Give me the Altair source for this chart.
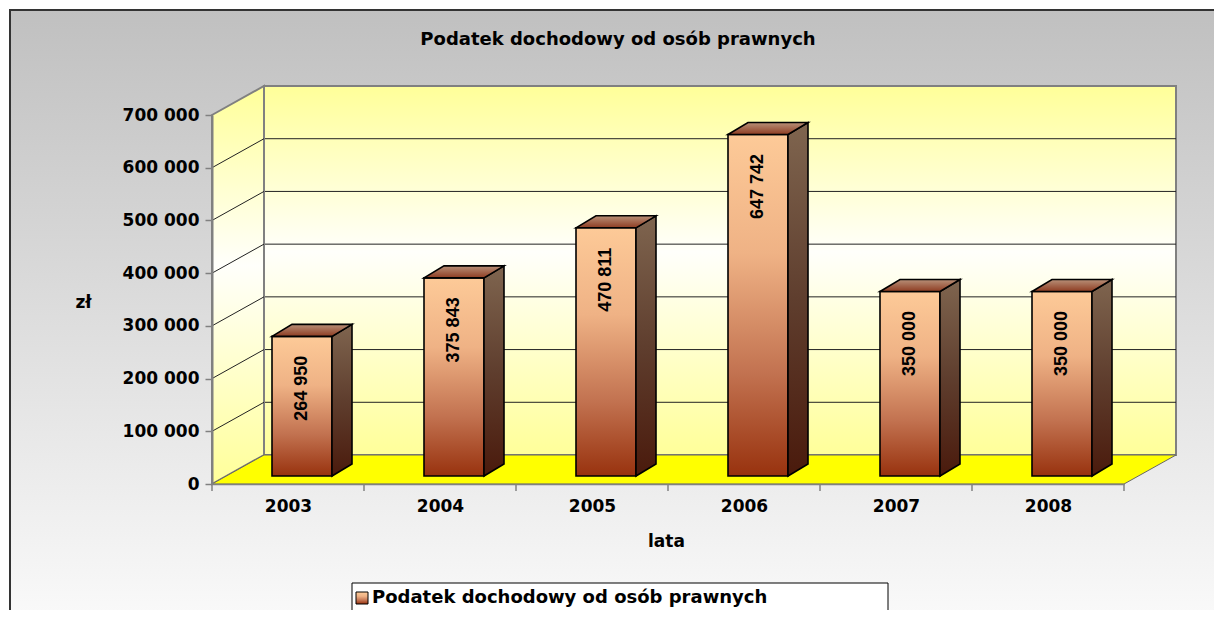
import json
import pandas as pd
import altair as alt

# ---------------- data ----------------
YEARS = ["2003", "2004", "2005", "2006", "2007", "2008"]
VALUES = [264950, 375843, 470811, 647742, 350000, 350000]
Y_TICKS = [0, 100000, 200000, 300000, 400000, 500000, 600000, 700000]
SERIES = "Podatek dochodowy od osób prawnych"
TITLE = "Podatek dochodowy od osób prawnych"
Y_TITLE = "zł"
X_TITLE = "lata"

# ---------------- geometry (pixel styles) ----------------
W, H = 912, 369
XMAX = len(YEARS)
YMAX = Y_TICKS[-1]
UX = W / XMAX
UY = H / YMAX


def dx(px):
    return px / UX


def dy(px):
    return px / UY


WALL_DX, WALL_DY = dx(52), dy(29)
BAR_W = dx(60)
BAR_SHIFT_X, BAR_SHIFT_Y = dx(14), dy(8)
BAR_DX, BAR_DY = dx(20), dy(12)

FONT_SP = "DejaVu Sans"
FONT_LB = "Liberation Sans"

# ---------------- derived tables ----------------
bar_rows = []
for i, (yr, v) in enumerate(zip(YEARS, VALUES)):
    xc = i + 0.5 + BAR_SHIFT_X
    bar_rows.append(dict(year=yr, value=v, label=f"{v:,}".replace(",", " "),
                         xl=xc - BAR_W / 2, xr=xc + BAR_W / 2, xc=xc,
                         y0=BAR_SHIFT_Y, y1=v + BAR_SHIFT_Y))
bars = pd.DataFrame(bar_rows)

side_rows, top_rows = [], []
for r in bar_rows:
    side_rows.append(dict(year=r["year"], x=r["xr"], y=r["y1"], y2=r["y0"]))
    side_rows.append(dict(year=r["year"], x=r["xr"] + BAR_DX, y=r["y1"] + BAR_DY, y2=r["y0"] + BAR_DY))
    t = r["y1"]
    top_rows += [
        dict(year=r["year"], x=r["xl"], y=t, y2=t),
        dict(year=r["year"], x=r["xl"] + BAR_DX, y=t + BAR_DY, y2=t),
        dict(year=r["year"], x=r["xr"], y=t + BAR_DY, y2=t),
        dict(year=r["year"], x=r["xr"] + BAR_DX, y=t + BAR_DY, y2=t + BAR_DY),
    ]
sides = pd.DataFrame(side_rows)
tops = pd.DataFrame(top_rows)

back_wall = pd.DataFrame(dict(x=[WALL_DX], x2=[XMAX + WALL_DX], y=[WALL_DY], y2=[YMAX + WALL_DY]))
side_wall = pd.DataFrame(dict(x=[0, WALL_DX], y=[YMAX, YMAX + WALL_DY], y2=[0, WALL_DY]))
floor = pd.DataFrame(dict(x=[0, WALL_DX, XMAX, XMAX + WALL_DX],
                          y=[0, WALL_DY, WALL_DY, WALL_DY],
                          y2=[0, 0, 0, WALL_DY]))
inner_ticks = Y_TICKS[1:-1]
back_grid = pd.DataFrame(dict(x=[WALL_DX] * len(inner_ticks), x2=[XMAX + WALL_DX] * len(inner_ticks),
                              y=[t + WALL_DY for t in inner_ticks]))
side_grid = pd.DataFrame(dict(x=[0] * len(inner_ticks), x2=[WALL_DX] * len(inner_ticks),
                              y=inner_ticks, y2=[t + WALL_DY for t in inner_ticks]))
bounds = pd.DataFrame(dict(x=list(range(XMAX + 1))))
one = pd.DataFrame(dict(title=[TITLE], series=[SERIES]))

# ---------------- styles ----------------
def grad(stops):
    return alt.LinearGradient(gradient="linear",
                              stops=[alt.GradientStop(color=c, offset=o) for o, c in stops],
                              x1=0, x2=0, y1=0, y2=1)


BG = grad([(0, "#c0c0c0"), (1, "#fbfbfb")])
WALL = grad([(0, "#ffff99"), (0.45, "#fffffb"), (1, "#ffff99")])
FRONT = grad([(0, "#fdca98"), (0.35, "#efb285"), (0.7, "#c27250"), (1, "#98320e")])
SIDE = grad([(0, "#7f654f"), (0.5, "#5f3e2e"), (1, "#4a1a0c")])
TOP = grad([(0, "#b89078"), (1, "#8e3c22")])

xs = alt.Scale(domain=[0, XMAX], nice=False, zero=False)
ys = alt.Scale(domain=[0, YMAX], nice=False, zero=False)

year_expr = json.dumps(YEARS) + "[floor(datum.value)]"

x_axis = alt.Axis(values=[i + 0.5 for i in range(XMAX)], labelExpr=year_expr, ticks=False,
                  grid=False, domainColor="#808080", domainWidth=1.5,
                  labelFont=FONT_SP, labelFontSize=17, labelFontWeight="bold", labelColor="black",
                  labelPadding=14, title=X_TITLE, titleX=454, titleY=57, titleAlign="center",
                  titleBaseline="middle", titleFont=FONT_SP, titleFontSize=17,
                  titleFontWeight="bold", titleColor="black", zindex=2)
y_axis = alt.Axis(values=Y_TICKS, labelExpr="replace(format(datum.value, ','), ',', ' ')",
                  grid=False, domainColor="#808080", domainWidth=2, tickColor="#808080",
                  tickSize=7, tickWidth=1.5, labelPadding=6,
                  labelFont=FONT_SP, labelFontSize=17, labelFontWeight="bold", labelColor="black",
                  title=Y_TITLE, titleAngle=0, titleX=-129, titleY=187, titleAlign="center",
                  titleBaseline="middle", titleFont=FONT_SP, titleFontSize=17,
                  titleFontWeight="bold", titleColor="black", zindex=2)


def X(f="x"):
    return alt.X(f"{f}:Q", scale=xs, axis=x_axis)


def Y(f="y"):
    return alt.Y(f"{f}:Q", scale=ys, axis=y_axis, stack=None)


layers = []

# chart-area background with border (drawn behind everything)
layers.append(alt.Chart(one).mark_rect(fill=BG, stroke="#333333", strokeWidth=2).encode(
    x=alt.value(-202), x2=alt.value(1006), y=alt.value(-105), y2=alt.value(520)))

# title
layers.append(alt.Chart(one).mark_text(font=FONT_SP, fontSize=18, fontWeight="bold",
                                       color="black", align="center", baseline="middle").encode(
    x=alt.value(406), y=alt.value(-75), text="title:N"))

# back wall
layers.append(alt.Chart(back_wall).mark_rect(fill=WALL, stroke="#808080", strokeWidth=2).encode(
    x=X(), x2="x2:Q", y=Y(), y2="y2:Q"))
layers.append(alt.Chart(back_grid).mark_rule(color="#222222", strokeWidth=1).encode(
    x=X(), x2="x2:Q", y=Y()))

# side wall
layers.append(alt.Chart(side_wall).mark_area(fill=WALL, stroke="#808080", strokeWidth=2).encode(
    x=X(), y=Y(), y2="y2:Q"))
layers.append(alt.Chart(side_grid).mark_rule(color="#222222", strokeWidth=1).encode(
    x=X(), x2="x2:Q", y=Y(), y2="y2:Q"))

# floor
layers.append(alt.Chart(floor).mark_area(fill="#ffff00", stroke="#666666", strokeWidth=1).encode(
    x=X(), y=Y(), y2="y2:Q"))

# category boundary ticks on the x axis
layers.append(alt.Chart(bounds).mark_rule(color="#808080", strokeWidth=1.5).encode(
    x=X(), y=alt.value(H), y2=alt.value(H + 7)))

# bars: front, side, top
layers.append(alt.Chart(bars).mark_rect(fill=FRONT, stroke="black", strokeWidth=1.6).encode(
    x=X("xl"), x2="xr:Q", y=Y("y1"), y2="y0:Q"))
layers.append(alt.Chart(sides).mark_area(fill=SIDE, stroke="black", strokeWidth=1.6).encode(
    x=X(), y=Y(), y2="y2:Q", detail="year:N"))
layers.append(alt.Chart(tops).mark_area(fill=TOP, stroke="black", strokeWidth=1.6).encode(
    x=X(), y=Y(), y2="y2:Q", detail="year:N"))

# data labels
layers.append(alt.Chart(bars).mark_text(font=FONT_LB, fontSize=18, fontWeight="bold", color="black",
                                        angle=270, align="center", baseline="middle",
                                        yOffset=52).encode(
    x=X("xc"), y=Y("y1"), text="label:N"))

# legend
layers.append(alt.Chart(one).mark_rect(fill="white", stroke="black", strokeWidth=1).encode(
    x=alt.value(140), x2=alt.value(676), y=alt.value(468), y2=alt.value(520)))
layers.append(alt.Chart(one).mark_rect(fill=FRONT, stroke="black", strokeWidth=1).encode(
    x=alt.value(144), x2=alt.value(156), y=alt.value(477), y2=alt.value(489)))
layers.append(alt.Chart(one).mark_text(font=FONT_SP, fontSize=18, fontWeight="bold", color="black",
                                       align="left", baseline="middle").encode(
    x=alt.value(160), y=alt.value(483), text="series:N"))

chart = alt.layer(*layers).properties(
    width=W, height=H,
    autosize=alt.AutoSizeParams(type="none"),
    padding={"left": 204, "top": 107, "right": 90, "bottom": 126},
).configure_view(stroke=None).configure(background="white")

chart.save("out.html", embed_options={"renderer": "svg", "actions": False})
